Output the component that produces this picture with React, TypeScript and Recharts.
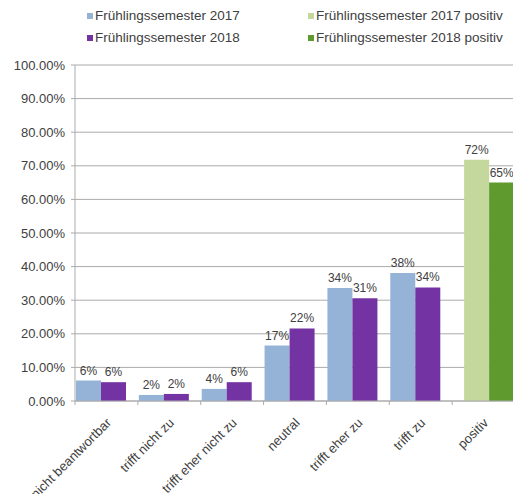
import { BarChart, Bar, XAxis, YAxis, CartesianGrid, Legend, LabelList, Rectangle } from "recharts"

const categories = [
  "nicht beantwortbar",
  "trifft nicht zu",
  "trifft eher nicht zu",
  "neutral",
  "trifft eher zu",
  "trifft zu",
  "positiv",
]
const fs2017 = [6.1, 1.8, 3.6, 16.5, 33.6, 38.1, null]
const fs2018 = [5.6, 2.1, 5.6, 21.6, 30.6, 33.8, null]
const fs2017Pos = [null, null, null, null, null, null, 71.8]
const fs2018Pos = [null, null, null, null, null, null, 65.0]
const yTicks = [0, 10, 20, 30, 40, 50, 60, 70, 80, 90, 100]

const data = categories.map((name, i) => ({
  name,
  fs2017: fs2017[i],
  fs2018: fs2018[i],
  fs2017Pos: fs2017Pos[i],
  fs2018Pos: fs2018Pos[i],
}))

const series = [
  { key: "fs2017", name: "Frühlingssemester 2017", color: "#95B3D7", stack: "a", shift: -5 },
  { key: "fs2018", name: "Frühlingssemester 2018", color: "#7433A3", stack: "b", shift: -5 },
  { key: "fs2017Pos", name: "Frühlingssemester 2017 positiv", color: "#C4D89D", stack: "a", shift: 6 },
  { key: "fs2018Pos", name: "Frühlingssemester 2018 positiv", color: "#5E9A2D", stack: "b", shift: 6 },
]

const FONT = "Arial, 'Liberation Sans', sans-serif"
const TEXT = "#404040"
const GRID = "#ABABAB"

const shiftedShape = (dx: number) => (props: any) => <Rectangle {...props} x={props.x + dx} />

const shiftedLabel = (dx: number) => (props: any) => {
  const { value } = props
  if (value == null) return null
  const vb = props.viewBox || props
  return (
    <text
      x={vb.x + vb.width / 2 + dx}
      y={vb.y - 6}
      textAnchor="middle"
      fontSize={12}
      fontFamily={FONT}
      fill={TEXT}
    >
      {Math.round(value) + "%"}
    </text>
  )
}

function CategoryTick(props: any) {
  const { x, y, payload } = props
  const half = payload.offset ?? 31.4
  const tx = x - 1
  const ty = y + 16
  return (
    <g>
      <line x1={x - half} x2={x - half} y1={y} y2={y + 4} stroke={GRID} />
      <text
        x={tx}
        y={ty}
        dy="0.71em"
        textAnchor="end"
        transform={`rotate(-45, ${tx}, ${ty})`}
        fontSize={13}
        fontFamily={FONT}
        fill={TEXT}
      >
        {payload.value}
      </text>
    </g>
  )
}

function LegendGrid() {
  return (
    <div style={{ position: "relative", width: 513, height: 50, fontFamily: FONT, fontSize: 13.5, color: TEXT }}>
      {series.map((s, i) => {
        const col = Math.floor(i / 2)
        const row = i % 2
        const left = col === 0 ? 87 : 308
        const top = row === 0 ? 15.5 : 37.5
        return (
          <div key={s.key} style={{ position: "absolute", left, top: top - 8, height: 16, display: "flex", alignItems: "center", whiteSpace: "nowrap" }}>
            <span style={{ display: "inline-block", width: 6, height: 6, background: s.color, marginRight: 2 }} />
            <span>{s.name}</span>
          </div>
        )
      })}
    </div>
  )
}

export default function App() {
  return (
    <div style={{ position: "absolute", left: 0, top: 0, width: 513, height: 494, overflow: "hidden", background: "#fff" }}>
      <BarChart
        width={515}
        height={494}
        data={data}
        margin={{ top: 65, right: 0, bottom: 0, left: 5 }}
        barGap={0}
        barSize={25}
      >
        <CartesianGrid vertical={false} stroke={GRID} strokeWidth={1} />
        <XAxis
          dataKey="name"
          height={93}
          interval={0}
          tickLine={false}
          tickSize={0}
          tickMargin={0}
          axisLine={{ stroke: GRID }}
          tick={<CategoryTick />}
        />
        <YAxis
          width={70}
          domain={[0, 100]}
          ticks={yTicks}
          tickSize={4}
          tickMargin={6}
          tickLine={{ stroke: GRID }}
          axisLine={{ stroke: GRID }}
          tickFormatter={(v) => v.toFixed(2) + "%"}
          tick={{ fontSize: 13, fill: TEXT, fontFamily: FONT }}
        />
        <Legend
          layout="vertical"
          align="center"
          verticalAlign="middle"
          wrapperStyle={{ top: 0, left: 0, width: 513, height: 50 }}
          content={() => <LegendGrid />}
        />
        {series.map((s) => (
          <Bar
            key={s.key}
            dataKey={s.key}
            name={s.name}
            fill={s.color}
            stackId={s.stack}
            isAnimationActive={false}
            shape={shiftedShape(s.shift)}
          >
            <LabelList dataKey={s.key} content={shiftedLabel(s.shift)} />
          </Bar>
        ))}
      </BarChart>
    </div>
  )
}
